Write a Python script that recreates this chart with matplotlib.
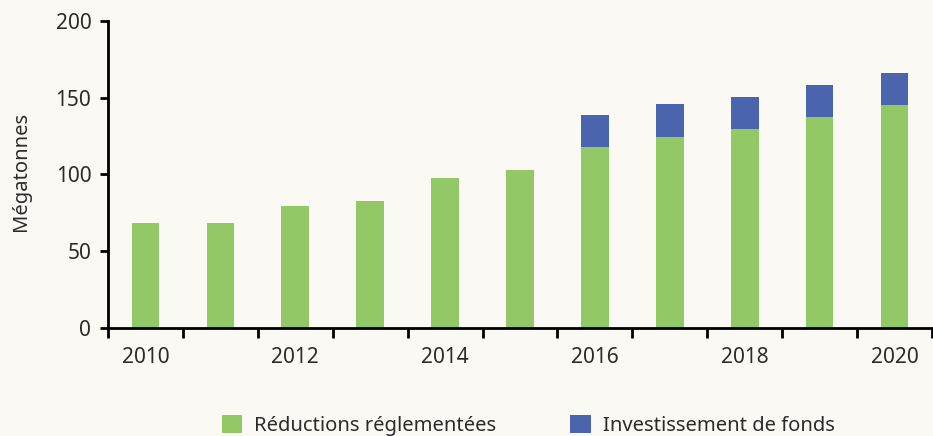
import matplotlib
matplotlib.use("Agg")
import matplotlib.pyplot as plt
import numpy as np

years = [2010, 2011, 2012, 2013, 2014, 2015, 2016, 2017, 2018, 2019, 2020]
reductions = [68.4, 68.4, 79.5, 82.7, 97.7, 102.9, 117.9, 124.6, 129.6, 137.5, 145.3]
investissement = [0, 0, 0, 0, 0, 0, 20.9, 21.3, 20.9, 20.8, 20.8]
tick_labels = ["2010", "", "2012", "", "2014", "", "2016", "", "2018", "", "2020"]
series_names = ["Réductions réglementées", "Investissement de fonds"]

green = "#92C966"
blue = "#4A64AE"
bg = "#FAF9F3"
txt = "#2b2b2b"

plt.rcParams['font.family'] = ['Noto Sans', 'DejaVu Sans']

fig = plt.figure(figsize=(9.33, 4.36), dpi=100, facecolor=bg)
ax = fig.add_axes([108/933, 108/436, 824/933, 307/436], facecolor=bg)

x = np.arange(len(years))
w = 0.37
ax.bar(x, reductions, width=w, color=green, label=series_names[0], zorder=2)
ax.bar(x, investissement, width=w, bottom=reductions, color=blue, label=series_names[1], zorder=2)

ax.set_xlim(-0.5, len(years) - 0.5)
ax.set_ylim(0, 200)
ax.set_yticks([0, 50, 100, 150, 200])
ax.set_xticks(x)
ax.set_xticklabels(tick_labels)
ax.set_xticks(np.arange(-0.5, len(years), 1.0), minor=True)
ax.tick_params(axis='x', which='major', length=0, pad=14, labelsize=15, labelcolor=txt)
ax.tick_params(axis='x', which='minor', length=7, width=2, direction='out', color='black')
ax.tick_params(axis='y', which='major', length=6, width=2, direction='out', pad=6, labelsize=15, labelcolor=txt)

for s in ['top', 'right']:
    ax.spines[s].set_visible(False)
for s in ['left', 'bottom']:
    ax.spines[s].set_linewidth(2)
    ax.spines[s].set_color('black')
    ax.spines[s].set_zorder(3)

ax.set_ylabel("Mégatonnes", fontsize=14.5, color=txt)
ax.yaxis.set_label_coords(-0.094, 0.51)

handles, labels = ax.get_legend_handles_labels()
leg = fig.legend(handles, labels, loc='center', bbox_to_anchor=(0.566, 0.025), ncol=2,
                 frameon=False, fontsize=14.5, handlelength=1.0, handleheight=1.0,
                 handletextpad=0.6, columnspacing=3.7)
for t in leg.get_texts():
    t.set_color(txt)

fig.savefig("out.png", dpi=100, facecolor=bg)
